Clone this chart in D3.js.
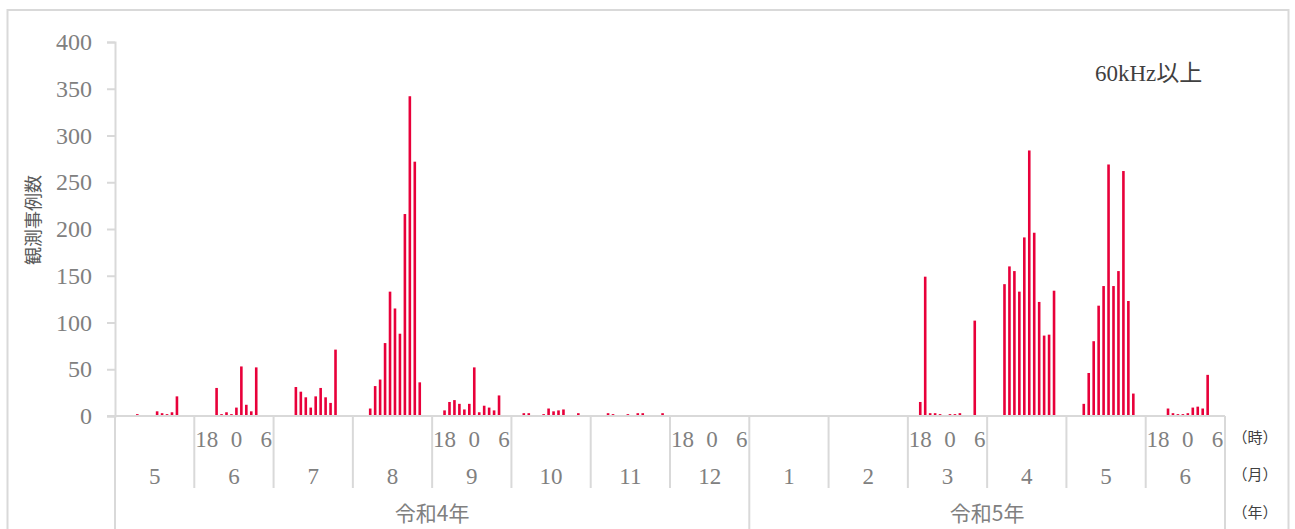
<!DOCTYPE html>
<html>
<head>
<meta charset="utf-8">
<script src="https://cdn.jsdelivr.net/npm/d3@7"></script>
<style>
  html, body { margin: 0; padding: 0; background: #fff; }
  svg { display: block; }
</style>
</head>
<body>
<svg id="chart" width="1295" height="529"></svg>
<script>
// Month categories along the bottom axis (令和4年 5月 – 令和5年 6月)
const monthLabels = ["5", "6", "7", "8", "9", "10", "11", "12", "1", "2", "3", "4", "5", "6"];
const yearLabels = ["令和4年", "令和5年"];
const yearMonthCount = [8, 6];

// Hour slots inside each month (16時 → 翌7時)
const hours = [16, 17, 18, 19, 20, 21, 22, 23, 0, 1, 2, 3, 4, 5, 6, 7];
const hourTickLabels = [18, 0, 6];
const monthsWithHourLabels = [1, 4, 7, 10, 13];

const yTicks = [0, 50, 100, 150, 200, 250, 300, 350, 400];

// Observed cases per hour, one row per month
const counts2022May = [0, 0, 0, 0, 2, 0, 0, 0, 5, 3, 2, 4, 21, 0, 0, 0];
const counts2022Jun = [0, 0, 0, 0, 30, 2, 4, 2, 9, 53, 12, 5, 52, 0, 0, 0];
const counts2022Jul = [0, 0, 0, 0, 31, 26, 20, 9, 21, 30, 20, 14, 71, 0, 0, 0];
const counts2022Aug = [0, 0, 0, 8, 32, 39, 78, 133, 115, 88, 216, 342, 272, 36, 0, 0];
const counts2022Sep = [0, 0, 6, 15, 17, 13, 7, 13, 52, 4, 11, 9, 6, 22, 0, 0];
const counts2022Oct = [0, 0, 3, 3, 0, 0, 2, 8, 5, 6, 7, 0, 0, 3, 0, 0];
const counts2022Nov = [0, 0, 0, 3, 2, 0, 0, 2, 0, 3, 3, 0, 0, 0, 3, 0];
const counts2022Dec = [0, 0, 0, 0, 0, 0, 0, 0, 0, 0, 0, 0, 0, 0, 0, 0];
const counts2023Jan = [0, 0, 0, 0, 0, 0, 0, 0, 0, 0, 0, 0, 0, 0, 0, 0];
const counts2023Feb = [0, 0, 0, 0, 0, 0, 0, 0, 0, 0, 0, 0, 0, 0, 0, 0];
const counts2023Mar = [0, 0, 15, 149, 3, 3, 2, 0, 2, 2, 3, 0, 0, 102, 0, 0];
const counts2023Apr = [0, 0, 0, 141, 160, 155, 133, 191, 284, 196, 122, 86, 87, 134, 0, 0];
const counts2023May = [0, 0, 0, 13, 46, 80, 118, 139, 269, 139, 155, 262, 123, 24, 0, 0];
const counts2023Jun = [0, 0, 0, 0, 8, 3, 2, 2, 3, 9, 10, 8, 44, 0, 0, 0];

const monthlyCounts = [
  counts2022May, counts2022Jun, counts2022Jul, counts2022Aug,
  counts2022Sep, counts2022Oct, counts2022Nov, counts2022Dec,
  counts2023Jan, counts2023Feb, counts2023Mar, counts2023Apr,
  counts2023May, counts2023Jun
];

const svg = d3.select("#chart");
const plot = { left: 115, right: 1225, top: 42, bottom: 416 };
const lineColor = "#d9d9d9";
const numColor = "#808080";
const serif = "'Liberation Serif', 'DejaVu Serif', serif";
const cjk = "'Noto Sans CJK JP', sans-serif";

// Outer chart frame
svg.append("rect")
  .attr("x", 7.5).attr("y", 10).attr("width", 1281).attr("height", 540)
  .attr("fill", "none").attr("stroke", lineColor).attr("stroke-width", 2);

const x0 = d3.scaleBand().domain(d3.range(monthLabels.length))
  .range([plot.left, plot.right]).padding(0);
const x1 = d3.scaleBand().domain(hours).range([0, x0.bandwidth()]).padding(0);
const y = d3.scaleLinear().domain([0, 400]).range([plot.bottom, plot.top]);

// Y axis
const yAxis = svg.append("g")
  .attr("transform", `translate(${plot.left},0)`)
  .call(d3.axisLeft(y).tickValues(yTicks).tickSize(8).tickSizeOuter(8).tickPadding(15));
yAxis.select(".domain").attr("stroke", lineColor).attr("stroke-width", 2);
yAxis.selectAll(".tick line").attr("stroke", lineColor).attr("stroke-width", 2);
yAxis.selectAll(".tick text")
  .attr("fill", numColor).attr("font-family", serif).attr("font-size", 24);

// Axis title
svg.append("text")
  .attr("transform", `translate(40,220) rotate(-90)`)
  .attr("text-anchor", "middle")
  .attr("font-family", cjk).attr("font-size", 18).attr("fill", "#595959")
  .text("観測事例数");

// Bars
const barW = 2.6;
const bars = [];
monthlyCounts.forEach((row, m) => {
  row.forEach((v, i) => { if (v > 0) bars.push({ m, h: hours[i], v }); });
});
svg.append("g").selectAll("rect").data(bars).join("rect")
  .attr("x", d => x0(d.m) + x1(d.h) + x1.bandwidth() / 2 - barW / 2)
  .attr("y", d => y(d.v))
  .attr("width", barW)
  .attr("height", d => y(0) - y(d.v))
  .attr("fill", "#e8003a");

// Baseline
svg.append("line")
  .attr("x1", plot.left - 8).attr("x2", plot.right)
  .attr("y1", y(0)).attr("y2", y(0))
  .attr("stroke", lineColor).attr("stroke-width", 2);

// Category separators: months (short) and years (to the bottom edge)
const yearBounds = [0];
yearMonthCount.forEach((n, i) => yearBounds.push(yearBounds[i] + n));
const grid = svg.append("g").attr("stroke", lineColor).attr("stroke-width", 2);
d3.range(monthLabels.length + 1).forEach(k => {
  const xx = k < monthLabels.length ? x0(k) : plot.right;
  const isYear = yearBounds.includes(k);
  grid.append("line")
    .attr("x1", xx).attr("x2", xx)
    .attr("y1", y(0)).attr("y2", isYear ? 529 : 488);
});

// Hour labels
const hourG = svg.append("g")
  .attr("font-family", serif).attr("font-size", 23).attr("fill", numColor)
  .attr("text-anchor", "middle");
monthsWithHourLabels.forEach(m => {
  hourTickLabels.forEach(h => {
    hourG.append("text")
      .attr("x", x0(m) + x1(h) + x1.bandwidth() / 2)
      .attr("y", 439).attr("dy", "0.35em")
      .text(h);
  });
});

// Month labels
svg.append("g")
  .attr("font-family", serif).attr("font-size", 23).attr("fill", numColor)
  .attr("text-anchor", "middle")
  .selectAll("text").data(monthLabels).join("text")
  .attr("x", (d, i) => x0(i) + x0.bandwidth() / 2)
  .attr("y", 476).attr("dy", "0.35em")
  .text(d => d);

// Year labels
svg.append("g")
  .attr("font-family", cjk).attr("font-size", 21).attr("fill", numColor)
  .attr("text-anchor", "middle")
  .selectAll("text").data(yearLabels).join("text")
  .attr("x", (d, i) => (x0(yearBounds[i]) + (yearBounds[i + 1] < monthLabels.length ? x0(yearBounds[i + 1]) : plot.right)) / 2)
  .attr("y", 514).attr("dy", "0.35em")
  .text(d => d);

// Unit labels on the right
const units = [["（時）", 438], ["（月）", 475], ["（年）", 513]];
svg.append("g")
  .attr("font-family", cjk).attr("font-size", 15).attr("fill", "#404040")
  .attr("text-anchor", "middle")
  .selectAll("text").data(units).join("text")
  .attr("x", 1255).attr("y", d => d[1]).attr("dy", "0.35em")
  .text(d => d[0]);

// Frequency band note
svg.append("text")
  .attr("x", 1095).attr("y", 73).attr("dy", "0.35em")
  .attr("text-anchor", "start")
  .attr("font-family", "'Liberation Serif', 'Noto Sans CJK JP', serif")
  .attr("font-size", 23).attr("fill", "#404040")
  .text("60kHz以上");
</script>
</body>
</html>
